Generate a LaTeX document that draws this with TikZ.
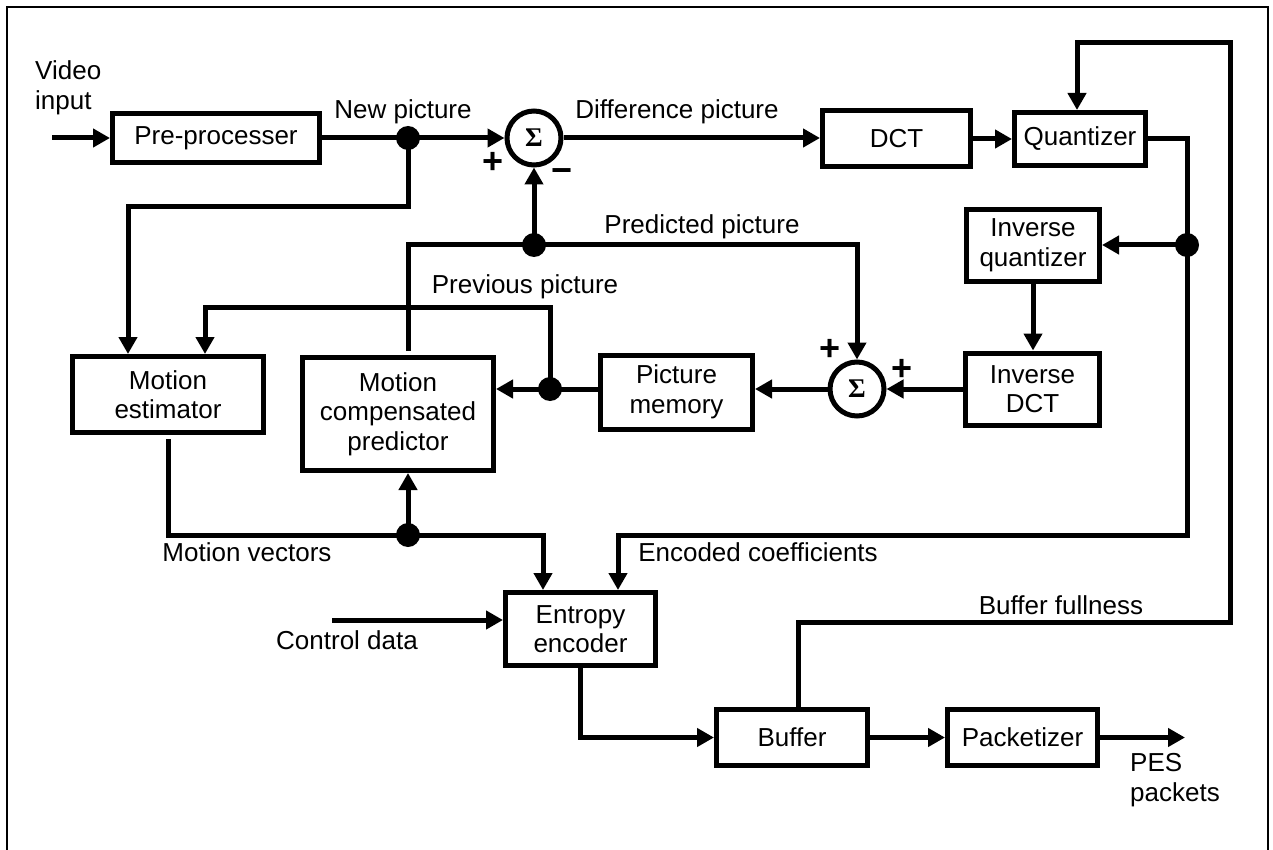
\documentclass[tikz,border=0pt]{standalone}
\usepackage{fontspec}
\setmainfont{Liberation Sans}
\newfontfamily\sigfont{Liberation Serif}
\usetikzlibrary{arrows.meta}
\begin{document}
\begin{tikzpicture}[x=1pt,y=-1pt,
  wire/.style={line width=5pt},
  arr/.style={line width=5pt,-{Triangle[length=17pt,width=18pt]}},
  blk/.style={draw,line width=5pt,align=center,inner sep=0pt,font=\fontsize{26}{29.5}\selectfont},
  sumnode/.style={draw,circle,line width=5pt,minimum size=54pt,inner sep=0pt,font=\sigfont\bfseries\fontsize{27}{27}\selectfont},
  dot/.style={circle,fill,inner sep=0pt,minimum size=24pt},
  lbl/.style={inner sep=0pt,font=\fontsize{26}{30}\selectfont},
  sgn/.style={inner sep=0pt,font=\bfseries\fontsize{36}{36}\selectfont}]
\useasboundingbox (0,0) rectangle (1273,850);
\draw[line width=2.5pt] (7,853) -- (7,7) -- (1268,7) -- (1268,853);

% blocks
\node[blk,minimum width=207pt,minimum height=49pt] (pre) at (216,138) {Pre-processer};
\node[sumnode] (s1) at (534,138) {Σ};
\node[blk,minimum width=148pt,minimum height=56pt] (dct) at (896.5,139) {DCT};
\node[blk,minimum width=131pt,minimum height=53pt] (quant) at (1080,139) {Quantizer};
\node[blk,minimum width=133pt,minimum height=72pt] (iq) at (1033,245.5) {Inverse\\quantizer};
\node[blk,minimum width=134pt,minimum height=72pt] (idct) at (1032.5,389) {Inverse\\DCT};
\node[sumnode] (s2) at (857,389) {Σ};
\node[blk,minimum width=152pt,minimum height=74pt] (pm) at (676.5,392) {Picture\\memory};
\node[blk,minimum width=191pt,minimum height=76pt] (me) at (168,394.5) {Motion\\estimator};
\node[blk,minimum width=191pt,minimum height=113pt] (mcp) at (398,414) {Motion\\compensated\\predictor};
\node[blk,minimum width=150pt,minimum height=73pt] (ent) at (580.5,629) {Entropy\\encoder};
\node[blk,minimum width=151pt,minimum height=56pt] (buf) at (792,737.5) {Buffer};
\node[blk,minimum width=150pt,minimum height=56pt] (pkt) at (1022.5,737.5) {Packetizer};

% junction dots
\node[dot] (d1) at (408,138) {};
\node[dot] (d2) at (534,245) {};
\node[dot] (d3) at (550,389) {};
\node[dot] (d4) at (1187,245) {};
\node[dot] (d5) at (408,535) {};

% helper coordinates
\coordinate (vin) at (52,138);
\coordinate (c1) at (128,207);
\coordinate (c2) at (205,307);
\coordinate (c3) at (408,245);
\coordinate (c4) at (857,245);
\coordinate (c5) at (550,307);
\coordinate (c6) at (168,535);
\coordinate (c7) at (543,535);
\coordinate (c8) at (1187,139);
\coordinate (c9) at (1187,535);
\coordinate (c10) at (618,535);
\coordinate (cd) at (332,620);
\coordinate (fb1) at (798,622);
\coordinate (fb2) at (1230,622);
\coordinate (fb3) at (1230,43);
\coordinate (fb4) at (1077,43);
\coordinate (pes) at (1185,737.5);

% connectors
\draw[arr] (vin) -- (pre.west);
\draw[arr] (pre.east) -- (s1.west);
\draw[arr] (s1.east) -- (s1.east -| dct.west);
\draw[arr] (dct.east) -- (quant.west);
\draw[arr] (d1.center) |- (c1) -- (c1 |- me.north);
\draw[arr] (d2.center) -- (s1.south);
\draw[wire,shorten <=4pt] (c3 |- mcp.north) -- (c3) -- (d2.center);
\draw[arr] (d2.center) -- (c4) -- (s2.north);
\draw[arr] (quant.east) -- (c8) -- (c9) -- (c10) -- (c10 |- ent.north);
\draw[arr] (d4.center) -- (d4 -| iq.east);
\draw[arr] (iq.south) -- (iq.south |- idct.north);
\draw[arr] (idct.west) -- (s2.east);
\draw[arr] (s2.west) -- (s2.west -| pm.east);
\draw[arr] (pm.west |- s2) -- (s2 -| mcp.east);
\draw[arr] (d3.center) -- (c5) -- (c2) -- (c2 |- me.north);
\draw[arr,shorten <=4pt] (me.south) -- (c6) -- (c7) -- (c7 |- ent.north);
\draw[arr] (d5.center) -- (d5 |- mcp.south);
\draw[arr] (cd) -- (cd -| ent.west);
\draw[arr] (ent.south) -- (ent.south |- buf.west) -- (buf.west);
\draw[arr] (buf.east) -- (pkt.west);
\draw[arr] (pkt.east) -- (pes);
\draw[arr] (buf.north -| fb1) -- (fb1) -- (fb2) -- (fb3) -- (fb4) -- (fb4 |- quant.north);

% labels
\node[lbl,align=left,anchor=west] (lvin) at (35,88) {Video\\input};
\node[lbl] (lnew) at (403,112) {New picture};
\node[lbl] (ldiff) at (677,112) {Difference picture};
\node[lbl] (lpred) at (702,227) {Predicted picture};
\node[lbl] (lprev) at (525,287) {Previous picture};
\node[lbl] (lmv) at (247,552) {Motion vectors};
\node[lbl] (lenc) at (758,552) {Encoded coefficients};
\node[lbl] (lcd) at (347,640) {Control data};
\node[lbl] (lbf) at (1061,605) {Buffer fullness};
\node[lbl,align=left,anchor=west] (lpes) at (1130,780) {PES\\packets};

% signs
\node[sgn] (p1) at (493,163) {+};
\node[sgn] (m1) at (562,176) {−};
\node[sgn] (p2) at (830,350) {+};
\node[sgn] (p3) at (902,370) {+};
\end{tikzpicture}
\end{document}
